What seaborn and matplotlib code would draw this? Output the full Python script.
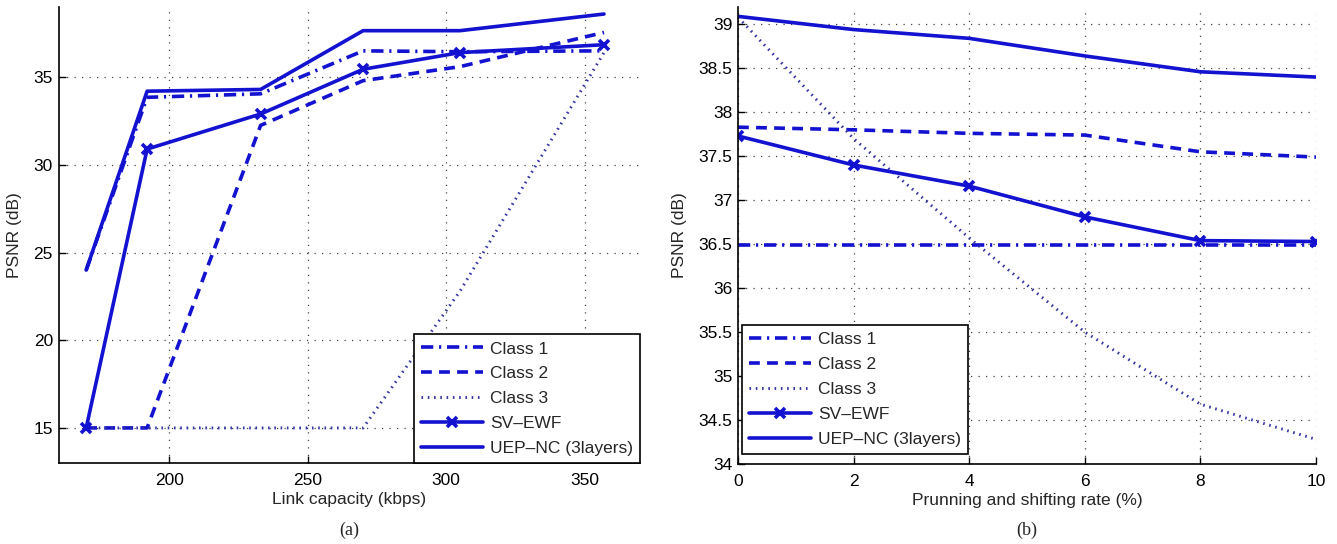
import matplotlib
matplotlib.use("Agg")
import matplotlib.pyplot as plt
import seaborn as sns
import pandas as pd

# ---------------- data ----------------
# (a) PSNR vs link capacity
cap_kbps = [170, 192, 233, 270, 305, 357]
a_class1 = [24.0, 33.85, 34.05, 36.5, 36.45, 36.5]
a_class2 = [15.0, 15.0, 32.25, 34.8, 35.6, 37.55]
a_class3 = [15.0, 15.0, 15.0, 15.0, 22.8, 36.4]
a_svewf = [15.0, 30.9, 32.9, 35.45, 36.4, 36.85]
a_uepnc = [24.0, 34.2, 34.3, 37.65, 37.65, 38.6]

# (b) PSNR vs prunning and shifting rate
rate_pct = [0, 2, 4, 6, 8, 10]
b_class1 = [36.49, 36.49, 36.49, 36.49, 36.49, 36.49]
b_class2 = [37.83, 37.80, 37.76, 37.74, 37.55, 37.49]
b_class3 = [39.08, 37.70, 36.57, 35.50, 34.68, 34.28]
b_svewf = [37.73, 37.40, 37.16, 36.81, 36.54, 36.53]
b_uepnc = [39.09, 38.94, 38.84, 38.64, 38.46, 38.40]

labels = ["Class 1", "Class 2", "Class 3", "SV\u2013EWF", "UEP\u2013NC (3layers)"]
a_x_ticks = [200, 250, 300, 350]
a_y_ticks = [15, 20, 25, 30, 35]
b_x_ticks = [0, 2, 4, 6, 8, 10]
b_y_ticks = [34, 34.5, 35, 35.5, 36, 36.5, 37, 37.5, 38, 38.5, 39]

# ---------------- style ----------------
sns.set_theme(style="white")
plt.rcParams["font.family"] = ["Liberation Sans", "DejaVu Sans"]

BLUE = "#1212d0"
DOT_BLUE = "#3535a5"
LW = 2.6
styles = [
    dict(color=BLUE, lw=LW, linestyle=(0, (3.4, 1.6, 0.6, 1.6))),
    dict(color=BLUE, lw=LW, linestyle=(0, (3.0, 2.0))),
    dict(color=DOT_BLUE, lw=2.1, linestyle=(0, (0.55, 1.6))),
    dict(color=BLUE, lw=LW, linestyle="-", marker="x", markersize=6.5,
         markeredgewidth=2.6, markeredgecolor=BLUE, markerfacecolor=BLUE),
    dict(color=BLUE, lw=LW, linestyle="-"),
]

fig = plt.figure(figsize=(13.37, 5.44), dpi=100)
W, H = 1337, 544
ax_a = fig.add_axes([58.5 / W, 1 - 463 / H, (640 - 58.5) / W, (463 - 7) / H])
ax_b = fig.add_axes([738 / W, 1 - 464 / H, (1316 - 738) / W, (464 - 6.7) / H])


def draw(ax, xs, series):
    for lab, ys, st in zip(labels, series, styles):
        df = pd.DataFrame({"x": xs, "y": ys})
        sns.lineplot(data=df, x="x", y="y", ax=ax, label=lab, sort=False,
                     estimator=None, **st)


draw(ax_a, cap_kbps, [a_class1, a_class2, a_class3, a_svewf, a_uepnc])
draw(ax_b, rate_pct, [b_class1, b_class2, b_class3, b_svewf, b_uepnc])

for ax in (ax_a, ax_b):
    ax.set_axisbelow(True)
    ax.grid(True, linestyle=(0, (1, 5)), color="#444444", lw=0.9)
    for s in ("top", "right"):
        ax.spines[s].set_visible(False)
    for s in ("left", "bottom"):
        ax.spines[s].set_color("black")
        ax.spines[s].set_linewidth(1.2)
    ax.tick_params(direction="in", length=5, width=1, colors="black",
                   labelsize=12.5, left=True, bottom=True)
    ax.tick_params(axis="x", pad=7)
    ax.tick_params(axis="y", pad=4)
    ax.set_ylabel("PSNR (dB)", fontsize=12.5, labelpad=8)

ax_a.set_xlim(160, 370)
ax_a.set_ylim(13, 39)
ax_a.set_xticks(a_x_ticks)
ax_a.set_yticks(a_y_ticks)
ax_a.set_xlabel("Link capacity (kbps)", fontsize=12.5, labelpad=3)

ax_b.set_xlim(0, 10)
ax_b.set_ylim(34, 39.2)
ax_b.set_xticks(b_x_ticks)
ax_b.set_yticks(b_y_ticks)
ax_b.set_yticklabels([f"{v:g}" for v in b_y_ticks])
ax_b.set_xlabel("Prunning and shifting rate (%)", fontsize=12.5, labelpad=3)

leg_kw = dict(fontsize=12.5, handlelength=3.6, handletextpad=0.4,
              labelspacing=0.56, borderpad=0.4, fancybox=False,
              framealpha=1, edgecolor="black")
la = ax_a.legend(loc="lower right", borderaxespad=0, **leg_kw)
lb = ax_b.legend(loc="lower left", bbox_to_anchor=(0.007, 0.022),
                 borderaxespad=0, **leg_kw)
for lg in (la, lb):
    lg.get_frame().set_linewidth(1.2)

fig.text((58.5 + 640) / 2 / W, 1 - 530 / H, "(a)", ha="center", va="center",
         fontsize=13, family=["Liberation Serif", "DejaVu Serif"])
fig.text((738 + 1316) / 2 / W, 1 - 530 / H, "(b)", ha="center", va="center",
         fontsize=13, family=["Liberation Serif", "DejaVu Serif"])

fig.savefig("out.png", dpi=100)
